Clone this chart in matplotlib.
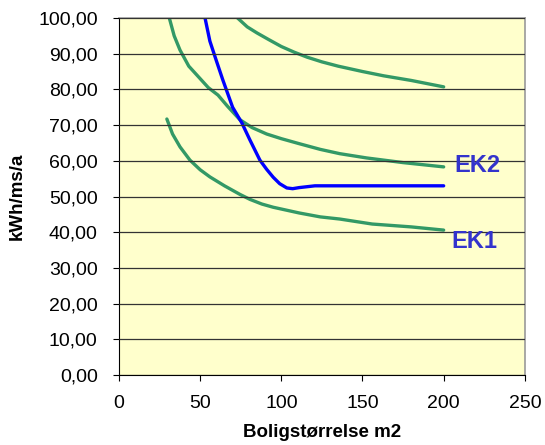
import matplotlib.pyplot as plt
import numpy as np

plt.rcParams['font.family'] = ['Liberation Sans', 'DejaVu Sans']

# kurver lest av figuren
top_x = [73, 79, 85, 92, 100, 108, 116, 125, 135, 150, 163, 180, 200]
top_y = [100, 97.5, 95.8, 94, 92, 90.4, 89, 87.7, 86.5, 85, 83.8, 82.5, 80.7]

mid_x = [31, 34, 37.6, 43, 50, 55, 61, 67, 74.5, 82, 91, 100, 111, 124, 136, 152.6, 175, 200]
mid_y = [100, 95, 91, 86.5, 83, 80.5, 78.4, 75.2, 71.5, 69.3, 67.5, 66.2, 64.8, 63.2, 62, 60.8, 59.5, 58.3]

low_x = [29.5, 33, 37.6, 43.7, 50, 56, 65, 74.5, 80.7, 88, 95, 103, 111, 124, 136, 156, 180, 200]
low_y = [71.7, 67.5, 63.9, 60.2, 57.5, 55.5, 53, 50.6, 49.2, 47.9, 47, 46.2, 45.4, 44.3, 43.7, 42.3, 41.5, 40.6]

blue_x = [53, 56, 60, 64, 70, 75.7, 80.7, 86.8, 91, 95, 99, 103.4, 107, 111, 120.7, 150, 200]
blue_y = [100, 93.5, 88, 82.6, 75, 70.6, 65.8, 60.2, 57.6, 55.4, 53.6, 52.4, 52.2, 52.5, 53, 53, 53]

fig = plt.figure(figsize=(5.45, 4.45), dpi=100)
ax = fig.add_axes([0.2183, 0.157, 0.7447, 0.8027])
ax.set_facecolor('#FFFFCC')

green = '#339966'
ax.plot(top_x, top_y, color=green, lw=2.4, solid_capstyle='round')
ax.plot(mid_x, mid_y, color=green, lw=2.4, solid_capstyle='round')
ax.plot(low_x, low_y, color=green, lw=2.4, solid_capstyle='round')
ax.plot(blue_x, blue_y, color='#0000FF', lw=2.4, solid_capstyle='round')

ax.text(221, 58.8, 'EK2', color='#3333CC', fontsize=17, fontweight='bold', ha='center', va='center')
ax.text(219, 37.3, 'EK1', color='#3333CC', fontsize=17, fontweight='bold', ha='center', va='center')

ax.set_xlim(0, 250)
ax.set_ylim(0, 100)
ax.set_xticks(np.arange(0, 251, 50))
ax.set_yticks(np.arange(0, 101, 10))
ax.set_yticklabels([f'{v:.2f}'.replace('.', ',') for v in np.arange(0, 101, 10)])
ax.yaxis.grid(True, color='#333333', lw=0.9)
ax.set_axisbelow(False)
ax.tick_params(direction='out', length=4.3, labelsize=14, colors='black')
ax.tick_params(axis='y', pad=11)
ax.tick_params(axis='x', pad=10)

for s in ['top', 'right']:
    ax.spines[s].set_color('#999999')
    ax.spines[s].set_linewidth(1.2)
for s in ['left', 'bottom']:
    ax.spines[s].set_color('black')

ax.set_xlabel('Boligstørrelse m2', fontsize=13.5, fontweight='bold', labelpad=9)
ax.set_ylabel('kWh/ms/a', fontsize=13.5, fontweight='bold', labelpad=9)

fig.savefig('out.png', dpi=100)
